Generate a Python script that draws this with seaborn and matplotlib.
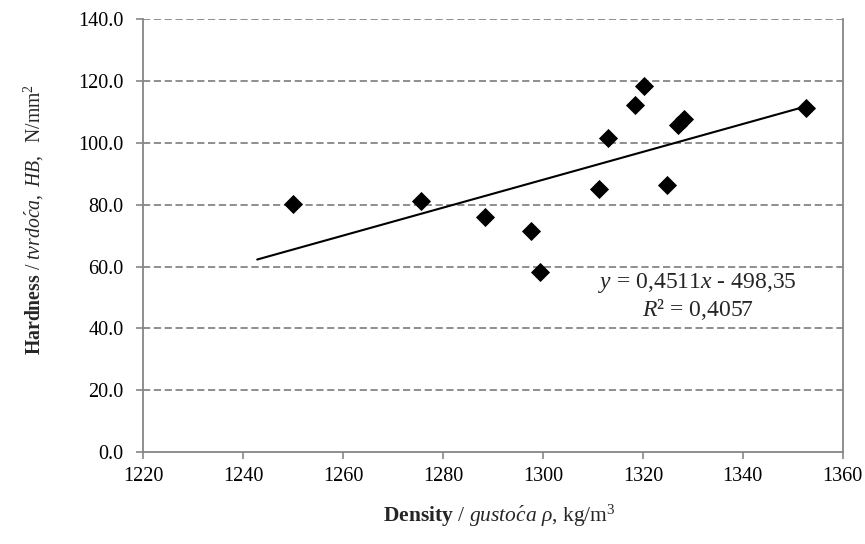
import numpy as np
import pandas as pd
import matplotlib
matplotlib.use("Agg")
import matplotlib.pyplot as plt
import seaborn as sns

# data
density = [1250.0, 1275.5, 1288.3, 1297.7, 1299.5, 1311.3, 1313.0, 1318.4,
           1320.2, 1324.9, 1327.1, 1328.2, 1352.6]
hardness = [80.1, 81.3, 76.1, 71.6, 58.1, 85.0, 101.5, 112.3,
            118.5, 86.3, 105.8, 107.6, 111.2]
slope = 0.4511
intercept = -498.35
trend_x = [1242.8, 1352.6]
x_ticks = [1220, 1240, 1260, 1280, 1300, 1320, 1340, 1360]
y_ticks = [0, 20, 40, 60, 80, 100, 120, 140]

sns.set_theme(style="white")
plt.rcParams['font.family'] = ['Liberation Serif', 'DejaVu Serif']
plt.rcParams['mathtext.fontset'] = 'custom'
plt.rcParams['mathtext.rm'] = 'Liberation Serif'
plt.rcParams['mathtext.it'] = 'Liberation Serif:italic'
plt.rcParams['mathtext.bf'] = 'Liberation Serif:bold'

W, H = 865, 544
grey = '#868686'
fig = plt.figure(figsize=(W/100, H/100), dpi=100)
ax = fig.add_axes([143.3/W, 1-452/H, (842.7-143.3)/W, (452-19.3)/H])

df = pd.DataFrame({'density': density, 'hardness': hardness})
tdf = pd.DataFrame({'x': trend_x, 'y': [slope*v + intercept for v in trend_x]})

for yv in y_ticks[1:]:
    ax.axhline(yv, color=grey, lw=1.3, ls=(0, (4, 2)), zorder=0)

sns.lineplot(data=tdf, x='x', y='y', ax=ax, color='black', lw=1.5, zorder=2)
sns.scatterplot(data=df, x='density', y='hardness', ax=ax, marker='D',
                s=95, color='black', linewidth=0, zorder=3)

ax.set_xlim(1220, 1360)
ax.set_ylim(0, 140)
ax.set_xticks(x_ticks)
ax.set_yticks(y_ticks)
ax.set_xticklabels([str(v) for v in x_ticks])
ax.set_yticklabels([f"{v:.1f}" for v in y_ticks])
ax.tick_params(axis='both', labelsize=14.5, colors='black', length=5,
               width=1.2, direction='out', bottom=True, left=True)
ax.tick_params(axis='both', color=grey)
ax.tick_params(axis='y', pad=9)
ax.tick_params(axis='x', pad=6)

for s in ['left', 'bottom', 'right']:
    ax.spines[s].set_visible(True)
    ax.spines[s].set_color(grey)
    ax.spines[s].set_linewidth(1.3)
ax.spines['top'].set_visible(False)

ax.set_xlabel('')
ax.set_ylabel('')
fig.text(499/W, 1-522/H,
         r'$\mathbf{Density}$ / $\mathit{gusto\acute{c}a}$ $\mathit{\rho}$, kg/m$^3$',
         fontsize=15.5, ha='center', va='baseline')
fig.text(40/W, 1-219/H,
         r'$\mathbf{Hardness}$ / $\mathit{tvrdo\acute{c}a,\ HB,}$  N/mm$^2$',
         fontsize=14.2, ha='center', va='baseline', rotation=90,
         rotation_mode='anchor')

ax.text(1331, 54.7, r'$\mathit{y}$ = 0,4511$\mathit{x}$ - 498,35', fontsize=17,
        ha='center', va='center')
ax.text(1331, 46.0, r'$\mathit{R}$² = 0,4057', fontsize=17,
        ha='center', va='center')

fig.savefig('out.png', dpi=100)
